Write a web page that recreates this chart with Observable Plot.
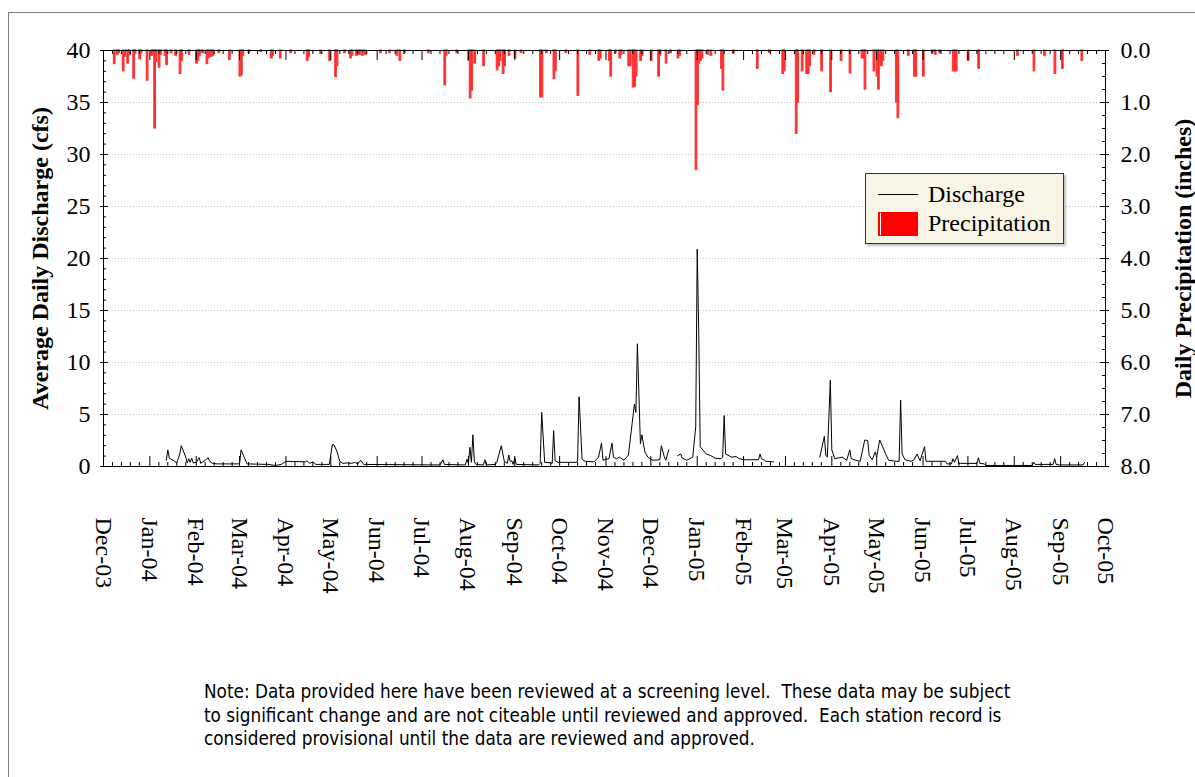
<!DOCTYPE html>
<html><head><meta charset="utf-8">
<script src="https://cdn.jsdelivr.net/npm/d3@7"></script>
<script src="https://cdn.jsdelivr.net/npm/@observablehq/plot@0.6"></script>
<style>
html,body{margin:0;padding:0;background:#fff;}
body{width:1195px;height:777px;position:relative;overflow:hidden;font-family:"Liberation Serif",serif;}
#outer{position:absolute;left:8px;top:12px;width:1400px;height:1000px;border:1.5px solid #808080;}
#chart{position:absolute;left:0;top:0;}
#legend{position:absolute;left:865px;top:173px;width:197px;height:69px;border:1px solid #333;background:#f8f5e7;box-shadow:2px 2px 2px rgba(0,0,0,0.25);}
#legend .ln{position:absolute;left:12px;top:20px;width:40px;height:0;border-top:1px solid #000;}
#legend .bx{position:absolute;left:12px;top:38px;width:40px;height:24px;background:#ff0000;}
#legend .bx i{position:absolute;left:2px;top:1px;width:1px;height:22px;background:#fff;}
#legend .t{position:absolute;left:62px;font-size:24px;line-height:24px;color:#000;}
#note{position:absolute;left:204px;top:680px;font-family:"DejaVu Sans Condensed","DejaVu Sans",sans-serif;font-stretch:condensed;font-size:18.75px;line-height:23.5px;white-space:pre;color:#000;}
</style></head><body>
<div id="outer"></div>
<div id="chart"></div>
<div id="legend"><div class="ln"></div><div class="t" style="top:8px">Discharge</div><div class="bx"><i></i></div><div class="t" style="top:37px">Precipitation</div></div>
<div id="note">Note: Data provided here have been reviewed at a screening level.  These data may be subject
to significant change and are not citeable until reviewed and approved.  Each station record is
considered provisional until the data are reviewed and approved.</div>
<script>
// ---------- data ----------
const xTickLabels = ["Dec-03","Jan-04","Feb-04","Mar-04","Apr-04","May-04","Jun-04","Jul-04","Aug-04","Sep-04","Oct-04","Nov-04","Dec-04","Jan-05","Feb-05","Mar-05","Apr-05","May-05","Jun-05","Jul-05","Aug-05","Sep-05","Oct-05"];
const dischargeTicks = [0,5,10,15,20,25,30,35,40];
const precipTicks = [0,1,2,3,4,5,6,7,8];

const dischargeDates = [
"2004-01-12","2004-01-13","2004-01-14","2004-01-17","2004-01-19","2004-01-21","2004-01-22","2004-01-25","2004-01-26","2004-01-27","2004-01-28","2004-01-29","2004-01-30",
"2004-02-01","2004-02-03","2004-02-04","2004-02-07","2004-02-09","2004-02-10","2004-02-12","2004-02-15","2004-02-29",
"2004-03-01","2004-03-02","2004-03-04","2004-03-06","2004-03-20","2004-03-25","2004-03-29",
"2004-04-01","2004-04-14","2004-04-15","2004-04-17","2004-04-19","2004-04-21","2004-04-30",
"2004-05-02","2004-05-03","2004-05-05","2004-05-07","2004-05-09","2004-05-12","2004-05-15","2004-05-17","2004-05-19","2004-05-21","2004-05-23",
"2004-07-13","2004-07-15","2004-07-16","2004-07-30","2004-07-31",
"2004-08-01","2004-08-02","2004-08-03","2004-08-04","2004-08-05","2004-08-06","2004-08-11","2004-08-12","2004-08-13","2004-08-19","2004-08-20","2004-08-23","2004-08-25","2004-08-27","2004-08-28","2004-08-29","2004-08-30","2004-08-31",
"2004-09-01","2004-09-02","2004-09-17","2004-09-18","2004-09-19","2004-09-21","2004-09-25","2004-09-26","2004-09-27","2004-09-28","2004-09-30",
"2004-10-12","2004-10-13","2004-10-14","2004-10-16","2004-10-18","2004-10-24","2004-10-27","2004-10-29","2004-10-30",
"2004-11-01","2004-11-03","2004-11-05","2004-11-06","2004-11-08","2004-11-10","2004-11-13","2004-11-16","2004-11-20","2004-11-21","2004-11-22","2004-11-24","2004-11-25","2004-11-27","2004-11-29",
"2004-12-02","2004-12-07","2004-12-08","2004-12-10","2004-12-11","2004-12-13","2004-12-16",
"2004-12-19","2004-12-21","2004-12-22","2004-12-25","2004-12-29","2004-12-31",
"2005-01-01","2005-01-02","2005-01-03","2005-01-07","2005-01-10","2005-01-13","2005-01-17","2005-01-18","2005-01-19","2005-01-20","2005-01-24","2005-01-27","2005-01-29",
"2005-02-01","2005-02-11","2005-02-12","2005-02-13","2005-02-15","2005-02-16","2005-02-21","2005-03-05",
"2005-03-24","2005-03-27","2005-03-28","2005-03-29","2005-03-31",
"2005-04-01","2005-04-03","2005-04-08","2005-04-11","2005-04-13","2005-04-14","2005-04-17","2005-04-20","2005-04-23","2005-04-25","2005-04-26","2005-04-28","2005-04-30",
"2005-05-01","2005-05-03","2005-05-05","2005-05-07","2005-05-09","2005-05-14","2005-05-16","2005-05-17","2005-05-18","2005-05-20","2005-05-24","2005-05-26","2005-05-28","2005-05-30",
"2005-06-02","2005-06-03","2005-06-16","2005-06-17","2005-06-20","2005-06-21","2005-06-22","2005-06-24","2005-06-25","2005-06-26",
"2005-07-07","2005-07-08","2005-07-09","2005-07-12","2005-07-13",
"2005-08-13","2005-08-14","2005-08-15","2005-08-27","2005-08-28","2005-08-29","2005-08-31",
"2005-09-16","2005-09-17"
];
const dischargeCfs = [
0.6,1.6,0.8,0.55,0.35,1.2,2.0,0.9,0.35,0.75,0.4,0.8,0.35,
0.4,0.85,0.3,0.6,0.85,0.5,0.3,0.25,0.25,
0.3,1.6,0.9,0.25,0.2,0.1,0.2,
0.5,0.45,0.55,0.3,0.45,0.2,0.2,
2.1,2.1,1.5,0.5,0.3,0.35,0.3,0.4,0.25,0.6,0.2,
0.15,0.65,0.2,0.15,0.7,
0.3,1.85,0.4,3.05,0.45,0.2,0.15,0.65,0.15,0.2,0.4,2.0,0.5,0.3,1.1,0.45,0.55,0.2,
0.85,0.2,0.15,0.3,5.2,0.4,0.35,0.3,3.45,0.55,0.4,
0.4,0.5,6.7,0.7,0.5,0.45,0.9,2.25,0.6,
0.7,0.75,2.25,0.9,0.75,0.9,0.6,1.1,6.0,5.2,11.8,2.2,3.05,1.4,0.9,
0.6,0.65,2.0,0.9,0.6,1.6,null,
1.05,1.2,0.8,0.6,0.9,3.8,
20.9,13.0,1.9,1.2,1.05,0.8,0.75,0.9,4.9,1.2,0.9,0.95,0.75,
0.65,0.65,1.2,0.75,0.6,0.5,0.45,null,
0.9,2.9,1.1,0.9,8.3,
1.6,0.75,0.9,0.6,1.6,0.75,0.6,0.5,2.55,2.5,1.05,0.65,1.4,
0.9,2.55,1.9,1.2,0.6,0.5,0.5,6.4,1.2,0.65,0.5,0.65,1.2,0.55,
1.9,0.5,0.5,0.25,0.25,0.75,0.4,1.05,0.25,0.3,
0.3,0.85,0.3,0.25,0.1,
0.1,0.4,0.2,0.2,0.75,0.2,0.15,
0.15,0.4
];

const precipDates = [
"2003-12-08","2003-12-10","2003-12-11","2003-12-14","2003-12-15","2003-12-17","2003-12-18","2003-12-21","2003-12-22","2003-12-25","2003-12-26","2003-12-30",
"2004-01-02","2004-01-03","2004-01-04","2004-01-05","2004-01-07","2004-01-08","2004-01-11","2004-01-12","2004-01-15","2004-01-18","2004-01-21","2004-01-22","2004-01-27",
"2004-02-01","2004-02-02","2004-02-03","2004-02-05","2004-02-08","2004-02-09","2004-02-11","2004-02-12","2004-02-16","2004-02-23",
"2004-03-01","2004-03-02","2004-03-03","2004-03-07","2004-03-15","2004-03-22","2004-03-23","2004-03-28",
"2004-04-04","2004-04-15","2004-04-16","2004-04-24","2004-04-30",
"2004-05-04","2004-05-05","2004-05-10","2004-05-14","2004-05-15","2004-05-18","2004-05-20","2004-05-22","2004-05-24",
"2004-06-03","2004-06-09","2004-06-14","2004-06-16","2004-06-19",
"2004-07-05","2004-07-16","2004-07-17","2004-07-24",
"2004-08-01","2004-08-02","2004-08-03","2004-08-05","2004-08-11","2004-08-20","2004-08-21","2004-08-22","2004-08-24","2004-08-25","2004-08-28",
"2004-09-01","2004-09-05","2004-09-18","2004-09-19","2004-09-22","2004-09-27","2004-09-28",
"2004-10-05","2004-10-13","2004-10-21","2004-10-27","2004-10-28",
"2004-11-03","2004-11-04","2004-11-07","2004-11-10","2004-11-11","2004-11-16","2004-11-17","2004-11-19","2004-11-20","2004-11-21","2004-11-24","2004-11-25",
"2004-12-01","2004-12-06","2004-12-07","2004-12-11","2004-12-14","2004-12-19","2004-12-20","2004-12-31",
"2005-01-01","2005-01-02","2005-01-03","2005-01-04","2005-01-08","2005-01-10","2005-01-17","2005-01-18","2005-01-25",
"2005-02-10","2005-02-18","2005-02-27","2005-02-28",
"2005-03-08","2005-03-09","2005-03-12","2005-03-15","2005-03-16","2005-03-17","2005-03-20","2005-03-25","2005-03-31",
"2005-04-07","2005-04-13","2005-04-21","2005-04-22","2005-04-23","2005-04-29",
"2005-05-01","2005-05-02","2005-05-04","2005-05-05","2005-05-14","2005-05-15","2005-05-22","2005-05-26","2005-05-27",
"2005-06-01","2005-06-07","2005-06-09","2005-06-12","2005-06-21","2005-06-22","2005-06-23",
"2005-07-01","2005-07-08",
"2005-08-03","2005-08-14","2005-08-21","2005-08-28",
"2005-09-02","2005-09-15"
];
const precipInches = [
0.26,0.08,0.05,0.40,0.12,0.25,0.10,0.54,0.06,0.17,0.05,0.58,
0.10,0.05,1.50,0.22,0.33,0.08,0.10,0.28,0.05,0.10,0.45,0.20,0.08,
0.25,0.20,0.10,0.05,0.26,0.15,0.12,0.10,0.05,0.18,
0.50,0.48,0.10,0.05,0.03,0.15,0.10,0.15,
0.05,0.20,0.12,0.06,0.20,
0.51,0.30,0.05,0.15,0.10,0.10,0.08,0.10,0.08,
0.05,0.05,0.10,0.20,0.05,
0.05,0.67,0.10,0.05,
0.20,0.92,0.77,0.25,0.30,0.38,0.30,0.20,0.45,0.30,0.10,
0.15,0.05,0.90,0.90,0.05,0.55,0.40,
0.05,0.87,0.08,0.20,0.15,
0.20,0.50,0.05,0.15,0.08,0.30,0.30,0.71,0.70,0.50,0.20,0.10,
0.20,0.50,0.10,0.25,0.05,0.15,0.10,2.30,
1.05,0.25,0.20,0.15,0.08,0.10,0.35,0.77,0.05,
0.35,0.05,0.45,0.40,
1.60,1.00,0.40,0.45,0.45,0.30,0.08,0.40,0.80,
0.20,0.44,0.15,0.15,0.75,0.40,
0.50,0.75,0.30,0.20,1.00,1.30,0.10,0.50,0.50,
0.50,0.05,0.08,0.05,0.40,0.40,0.40,
0.20,0.35,
0.10,0.40,0.10,0.45,
0.35,0.20
];

// ---------- build ----------
const parseDay = d3.utcParse("%Y-%m-%d");
const parseMonth = d3.utcParse("%b-%y");
const monthDates = xTickLabels.map(parseMonth);
const fmtMonth = d3.utcFormat("%b-%y");
// precipitation (inches) shares the frame with discharge: 8 in spans the same height as 40 cfs, hanging from the top
const toY = p => 40 - p * 5;

const flow = dischargeDates.map((d, i) => ({date: parseDay(d), q: dischargeCfs[i]}));
const rain = precipDates.map((d, i) => ({start: parseDay(d), end: d3.utcDay.offset(parseDay(d), 1), p: precipInches[i]}));

const minorX = [];
for (let i = 0; i < monthDates.length - 1; i++) for (let k = 1; k <= 4; k++) minorX.push(d3.utcDay.offset(monthDates[i], 6 * k));
const minorLeft = d3.range(0, 41).filter(v => v % 5 !== 0);
const minorRight = d3.range(0, 8.01, 0.25).filter(v => v % 1 !== 0).map(toY);

const W = 1195, H = 610, ML = 103, MR = 90, MT = 50, MB = 144;
const FW = W - ML - MR, FH = H - MT - MB;

const chart = Plot.plot({
  width: W, height: H,
  marginLeft: ML, marginRight: MR, marginTop: MT, marginBottom: MB,
  style: {fontFamily: "Liberation Serif", fontSize: "24px", color: "#000", background: "transparent"},
  x: {type: "utc", domain: [monthDates[0], monthDates[monthDates.length - 1]], axis: null},
  y: {domain: [0, 40]},
  marks: [
    Plot.ruleY(dischargeTicks.filter(v => v > 0 && v < 40), {stroke: "#c4c4c4", strokeDasharray: "1,2", strokeWidth: 1}),
    Plot.rect(rain, {x1: "start", x2: "end", y1: 40, y2: d => toY(d.p), fill: "#ff0000", stroke: "#ff3a3a", strokeWidth: 1.3}),
    Plot.line(flow, {x: "date", y: "q", stroke: "#000", strokeWidth: 1}),
    Plot.frame({stroke: "#000", strokeWidth: 1}),
    // x ticks (bottom & top, inward)
    Plot.tickX(monthDates, {x: d => d, insetTop: FH - 10, stroke: "#000"}),
    Plot.tickX(monthDates, {x: d => d, insetBottom: FH - 10, stroke: "#000"}),
    Plot.tickX(minorX, {x: d => d, insetTop: FH - 4, stroke: "#000"}),
    Plot.tickX(minorX, {x: d => d, insetBottom: FH - 4, stroke: "#000"}),
    // left axis
    Plot.axisY(dischargeTicks, {anchor: "left", tickSize: 3, tickPadding: 10, label: null, fontSize: 24}),
    Plot.tickY(dischargeTicks, {y: d => d, insetRight: FW - 5, stroke: "#000"}),
    Plot.tickY(minorLeft, {y: d => d, insetRight: FW - 3, stroke: "#000"}),
    // right axis (precipitation, inverted)
    Plot.axisY(precipTicks.map(toY), {anchor: "right", tickSize: 3, tickPadding: 12, label: null, fontSize: 24, tickFormat: v => ((40 - v) / 5).toFixed(1)}),
    Plot.tickY(precipTicks.map(toY), {y: d => d, insetLeft: FW - 5, stroke: "#000"}),
    Plot.tickY(minorRight, {y: d => d, insetLeft: FW - 3, stroke: "#000"}),
    // month labels
    Plot.text(monthDates, {x: d => d, text: d => fmtMonth(d), frameAnchor: "bottom", dx: -8, dy: 51, rotate: 90, textAnchor: "start", fontSize: 24}),
    // axis titles
    Plot.text(["Average Daily Discharge (cfs)"], {text: d => d, frameAnchor: "left", dx: -63, rotate: -90, textAnchor: "middle", fontWeight: "bold", fontSize: 24}),
    Plot.text(["Daily Precipitation (inches)"], {text: d => d, frameAnchor: "right", dx: 78, rotate: -90, textAnchor: "middle", fontWeight: "bold", fontSize: 24})
  ]
});
document.getElementById("chart").appendChild(chart);
</script>
</body></html>
